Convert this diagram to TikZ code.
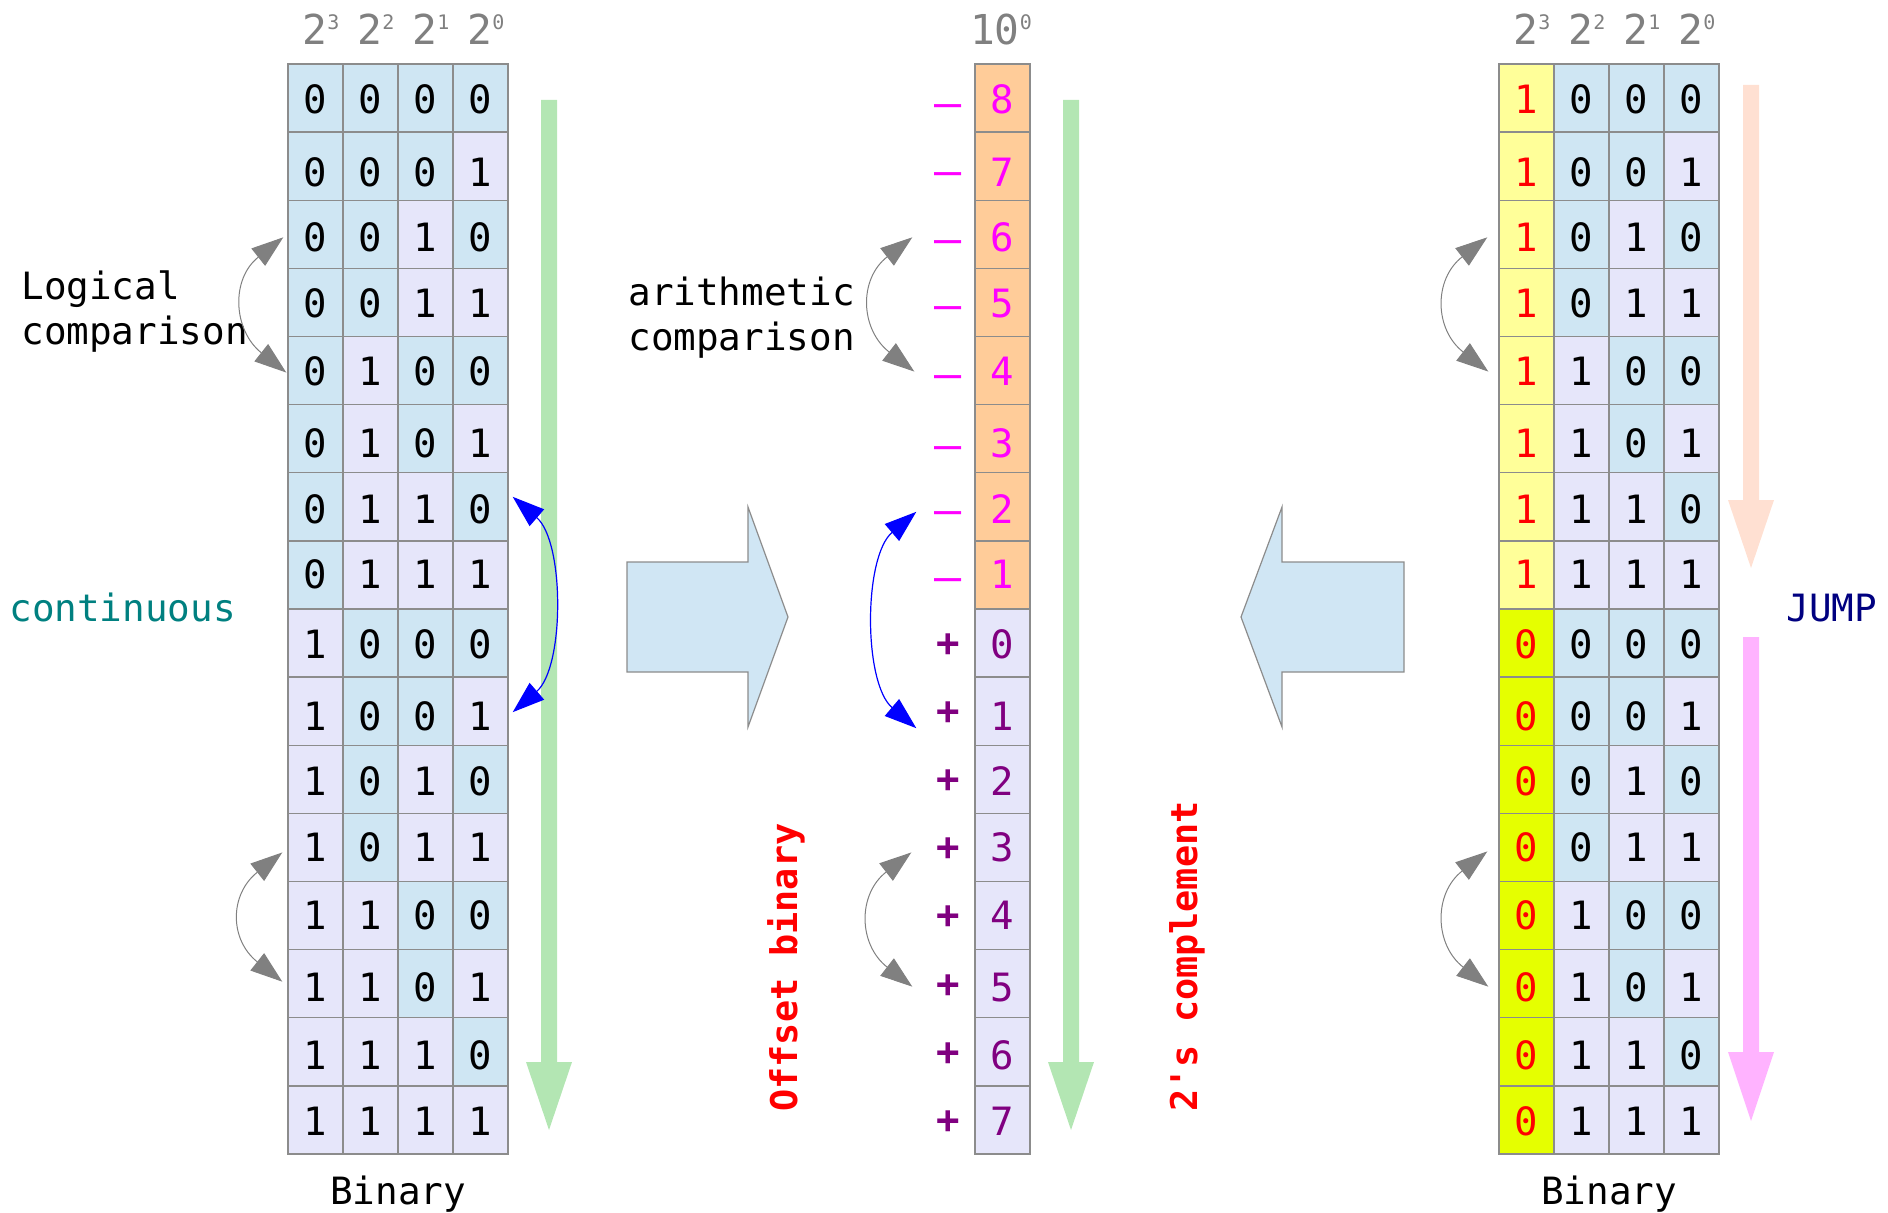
\documentclass[tikz,border=0pt]{standalone}
\usepackage{fontspec}
\setmainfont{DejaVu Sans Mono}
\newfontfamily\monoplain{DejaVu Sans Mono}
\usetikzlibrary{arrows.meta,calc}

\definecolor{zerofill}{HTML}{CFE6F3}
\definecolor{onefill}{HTML}{E6E6FA}
\definecolor{negfill}{HTML}{FFCC99}
\definecolor{msbone}{HTML}{FFFF99}
\definecolor{msbzero}{HTML}{E5FF00}
\definecolor{gridgray}{HTML}{8C8C8C}
\definecolor{hdrgray}{HTML}{808080}
\definecolor{arrowgray}{HTML}{808080}
\definecolor{greenbar}{HTML}{B3E6B3}
\definecolor{peachbar}{HTML}{FFE0D2}
\definecolor{pinkbar}{HTML}{FFB3FF}
\definecolor{blockfill}{HTML}{D0E6F4}
\definecolor{negtext}{HTML}{FF00FF}
\definecolor{postext}{HTML}{800080}
\definecolor{contteal}{HTML}{008080}
\definecolor{jumpnavy}{HTML}{000080}

% base digit with a small raised exponent
\newcommand\powlabel[2]{#1\raisebox{7.7pt}{\fontsize{10}{11}\selectfont #2}}

\begin{document}
\begin{tikzpicture}[x=0.5pt,y=-0.5pt,
  cell/.style={draw=gridgray,line width=0.7pt,minimum width=27.5pt,minimum height=34.0625pt,
               inner sep=0pt,text height=14.2pt,text depth=0pt,font=\fontsize{19.5}{20}\selectfont},
  bit0/.style={fill=zerofill},
  bit1/.style={fill=onefill},
  msb0/.style={fill=msbzero,text=red},
  msb1/.style={fill=msbone,text=red},
  sign/.style={inner sep=0pt,font=\fontsize{19.5}{20}\selectfont},
  hdr/.style={anchor=base,inner sep=0pt,text=hdrgray,font=\fontsize{20.6}{22}\selectfont},
  txt/.style={inner sep=0pt,font=\fontsize{18.8}{22.5}\selectfont},
  vtxt/.style={inner sep=0pt,rotate=90,anchor=base west,text=red,
               font=\monoplain\bfseries\fontsize{18.4}{22}\selectfont},
  block/.style={fill=blockfill,draw=gridgray,line width=0.6pt},
  garrow/.style={draw=arrowgray,line width=0.5pt,
                 {Triangle[length=16pt,width=11pt]}-{Triangle[length=16pt,width=11pt]}},
  barrow/.style={draw=blue,line width=0.6pt,
                 {Triangle[length=16pt,width=11pt]}-{Triangle[length=16pt,width=11pt]}}
]
\useasboundingbox (0,0) rectangle (1888,1213);

% wide block arrows between the tables
\filldraw[block] (627,562) -- (748,562) -- (748,507) -- (788,617) -- (748,727) -- (748,672) -- (627,672) -- cycle;
\filldraw[block] (1404,562) -- (1282,562) -- (1282,507) -- (1241,617) -- (1282,727) -- (1282,672) -- (1404,672) -- cycle;

% ordering bars
\fill[greenbar] (541,100) -- (557,100) -- (557,1062) -- (572,1062) -- (549,1130) -- (526,1062) -- (541,1062) -- cycle;
\fill[greenbar] (1063,100) -- (1079,100) -- (1079,1062) -- (1094,1062) -- (1071,1130) -- (1048,1062) -- (1063,1062) -- cycle;
\fill[peachbar] (1743,85) -- (1759,85) -- (1759,500) -- (1774,500) -- (1751,568) -- (1728,500) -- (1743,500) -- cycle;
\fill[pinkbar] (1743,637) -- (1759,637) -- (1759,1052) -- (1774,1052) -- (1751,1121) -- (1728,1052) -- (1743,1052) -- cycle;

% the three columns of codes: row / digit drop / dash drop
\foreach \r/\o/\s in {0/1/13,1/6/13,2/3/13,3/1/11,4/1/12,5/5/15,6/2/12,7/-1/11,
                      8/1/0,9/5/0,10/2/0,11/0/0,12/0/0,13/4/0,14/3/0,15/1/0}{
  \pgfmathsetmacro\yy{64+68.125*(\r+0.5)}
  \pgfmathsetmacro\off{-0.5*(\o)}
  \pgfmathtruncatemacro\vv{mod(\r+8,16)}
  \foreach \c in {0,...,3}{
    \pgfmathtruncatemacro\b{mod(floor(\r/2^(3-\c)),2)}
    \node[cell,bit\b] (L-\r-\c) at ({315.5+55*\c},\yy) {\raisebox{\off pt}{\b}};
    \pgfmathtruncatemacro\bb{mod(floor(\vv/2^(3-\c)),2)}
    \ifnum\c=0
      \node[cell,msb\bb] (R-\r-\c) at ({1526.5+55*\c},\yy) {\raisebox{\off pt}{\bb}};
    \else
      \node[cell,bit\bb] (R-\r-\c) at ({1526.5+55*\c},\yy) {\raisebox{\off pt}{\bb}};
    \fi
  }
  \ifnum\r<8
    \pgfmathtruncatemacro\n{8-\r}
    \pgfmathsetmacro\sy{\yy+\s}
    \node[cell,fill=negfill,text=negtext] (M-\r) at (1002.5,\yy) {\raisebox{\off pt}{\n}};
    \node[sign,text=negtext,font=\fontsize{22.5}{24}\selectfont] (S-\r) at (948,\sy) {—};
  \else
    \pgfmathtruncatemacro\n{\r-8}
    \node[cell,fill=onefill,text=postext] (M-\r) at (1002.5,\yy) {\raisebox{\off pt}{\n}};
    \node[sign,text=postext,font=\bfseries\fontsize{19.5}{20}\selectfont] (S-\r) at (948,\yy+2) {+};
  \fi
}

% column weights
\foreach \c/\p in {0/3,1/2,2/1,3/0}{
  \node[hdr] (HL-\c) at ({321+55*\c},45) {\powlabel{2}{\p}};
  \node[hdr] (HR-\c) at ({1532+55*\c},45) {\powlabel{2}{\p}};
}
\node[hdr] (HM) at (1001,45) {\powlabel{10}{0}};

% captions
\node[txt,anchor=north west,align=left] (logic) at (21,270) {Logical\\comparison};
\node[txt,anchor=north west,align=left] (arith) at (628,277) {arithmetic\\comparison};
\node[txt,anchor=base west,text=contteal] (cont) at (9,621) {continuous};
\node[txt,anchor=base west,text=jumpnavy] (jump) at (1786,621) {JUMP};
\node[txt,anchor=base] (binL) at (398,1204) {Binary};
\node[txt,anchor=base] (binR) at (1609,1204) {Binary};
\node[vtxt] (offs) at (797,1112) {Offset binary};
\node[vtxt] (twos) at (1197,1112) {2's complement};

% comparison arrows, left table
\coordinate (lg1a) at ($(L-2-0.west)+(-4,3)$);
\coordinate (lg1b) at ($(L-4-0.west)+(-1,2)$);
\draw[garrow] (lg1a) .. controls ($(lg1a)+(-53,42)$) and ($(lg1b)+(-53,-42)$) .. (lg1b);
\coordinate (lg2a) at ($(L-11-0.west)+(-5,5)$);
\coordinate (lg2b) at ($(L-13-0.west)+(-5,-2)$);
\draw[garrow] (lg2a) .. controls ($(lg2a)+(-53,42)$) and ($(lg2b)+(-53,-42)$) .. (lg2b);
\coordinate (lb1) at ($(L-6-3.east)+(4,-10)$);
\coordinate (lb2) at ($(L-9-3.east)+(4,1)$);
\draw[barrow] (lb1) .. controls ($(lb1)+(52,45)$) and ($(lb2)+(52,-45)$) .. (lb2);

% comparison arrows, signed column
\coordinate (mg1a) at ($(M-2.west)+(-62,3)$);
\coordinate (mg1b) at ($(M-4.west)+(-60,1)$);
\draw[garrow] (mg1a) .. controls ($(mg1a)+(-54,42)$) and ($(mg1b)+(-54,-42)$) .. (mg1b);
\coordinate (mg2a) at ($(M-11.west)+(-63,5)$);
\coordinate (mg2b) at ($(M-13.west)+(-62,3)$);
\draw[garrow] (mg2a) .. controls ($(mg2a)+(-54,42)$) and ($(mg2b)+(-54,-42)$) .. (mg2b);
\coordinate (mb1) at ($(M-6.west)+(-58,5)$);
\coordinate (mb2) at ($(M-9.west)+(-58,17)$);
\draw[barrow] (mb1) .. controls ($(mb1)+(-53,45)$) and ($(mb2)+(-53,-45)$) .. (mb2);

% comparison arrows, right table
\coordinate (rg1a) at ($(R-2-0.west)+(-11,3)$);
\coordinate (rg1b) at ($(R-4-0.west)+(-10,1)$);
\draw[garrow] (rg1a) .. controls ($(rg1a)+(-54,42)$) and ($(rg1b)+(-54,-42)$) .. (rg1b);
\coordinate (rg2a) at ($(R-11-0.west)+(-11,4)$);
\coordinate (rg2b) at ($(R-13-0.west)+(-10,3)$);
\draw[garrow] (rg2a) .. controls ($(rg2a)+(-54,42)$) and ($(rg2b)+(-54,-42)$) .. (rg2b);
\end{tikzpicture}
\end{document}
